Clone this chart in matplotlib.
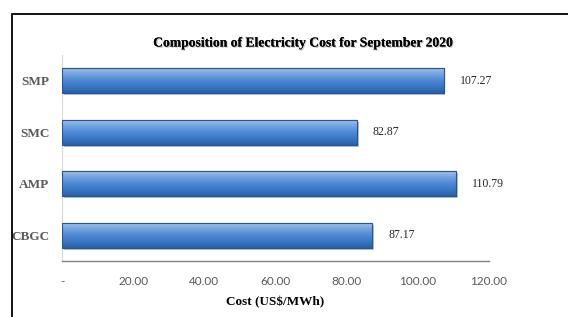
import matplotlib
matplotlib.use("Agg")
import matplotlib.pyplot as plt
import numpy as np
from matplotlib.patches import Rectangle
import matplotlib.patheffects as pe
from matplotlib.colors import LinearSegmentedColormap

categories = ["CBGC", "AMP", "SMC", "SMP"]
values = [87.17, 110.79, 82.87, 107.27]
xticks = [0, 20, 40, 60, 80, 100, 120]
xticklabels = ["-", "20.00", "40.00", "60.00", "80.00", "100.00", "120.00"]
title = "Composition of Electricity Cost for September 2020"
xlabel = "Cost (US$/MWh)"

fig = plt.figure(figsize=(5.68, 3.17), dpi=100)
fig.patch.set_facecolor("white")

# outer frame (extends past right and bottom)
fig.patches.append(Rectangle((12/568, -0.05), 1.0, 1 - 14/317 + 0.05,
                             transform=fig.transFigure, fill=False,
                             edgecolor="black", linewidth=1.3))

ax = fig.add_axes([62/568, 1 - 261/317, (489-62)/568, (261-55)/317])
ax.set_xlim(0, 120)
ax.set_ylim(-0.5, 3.5)

ypos = np.arange(len(categories))
h = 0.48
bars = ax.barh(ypos, values, height=h, color="#3d78c6", edgecolor="#2a5590",
               linewidth=0.8, zorder=2,
               path_effects=[pe.SimplePatchShadow(offset=(1.2, -1.5), shadow_rgbFace="#888888", alpha=0.5), pe.Normal()])

grad = np.linspace(0, 1, 64).reshape(-1, 1)
cmap = LinearSegmentedColormap.from_list("b", ["#2b5fa3", "#3a76c4", "#4d88d4", "#6fa2e0", "#9cc0ee"])
for b, y, v in zip(bars, ypos, values):
    im = ax.imshow(grad, extent=[0, v, y - h/2, y + h/2], aspect="auto",
                   cmap=cmap, origin="lower", zorder=3)
    im.set_clip_path(b)
    ax.barh(y, v, height=h, color="none", edgecolor="#2a5590", linewidth=0.8, zorder=4)
    ax.text(v + 4.5, y, f"{v:.2f}", va="center", ha="left", fontsize=8.5,
            family="Liberation Serif", color="#262626")

ax.set_yticks(ypos)
ax.set_yticklabels(categories, family="Liberation Serif", fontsize=9.5,
                   fontweight="bold", color="#595959")
ax.set_xticks(xticks)
ax.set_xticklabels(xticklabels, family="Lato", fontsize=8.5, color="#595959")
ax.tick_params(axis="both", length=0)
ax.tick_params(axis="x", pad=11)
ax.tick_params(axis="y", pad=9)

for s in ["top", "right"]:
    ax.spines[s].set_visible(False)
ax.spines["left"].set_color("#d9d9d9")
ax.spines["left"].set_linewidth(0.8)
ax.spines["bottom"].set_color("#7f7f7f")
ax.spines["bottom"].set_linewidth(1.0)
ax.set_facecolor("white")

ax.set_xlabel(xlabel, family="Liberation Serif", fontsize=9.5, fontweight="bold",
              color="black", labelpad=6)

fig.text(303/568, 1 - 43/317, title, ha="center", va="center",
         family="Liberation Serif", fontsize=9.8, fontweight="bold", color="black",
         path_effects=[pe.withSimplePatchShadow(offset=(0.8, -0.8), shadow_rgbFace="#999999", alpha=0.6), pe.Normal()])

fig.savefig("out.png", dpi=100)
